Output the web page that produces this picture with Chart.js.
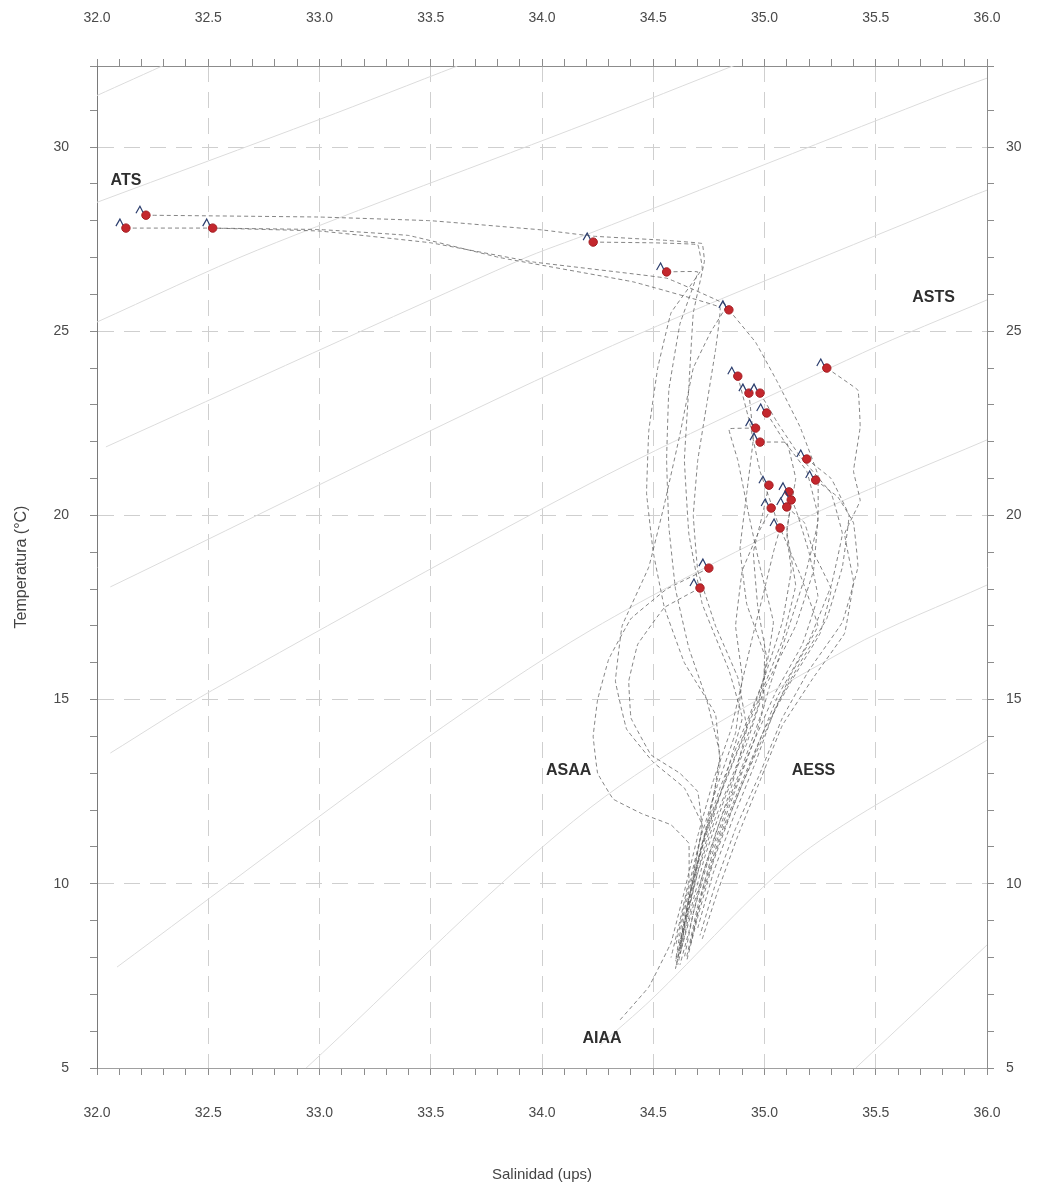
<!DOCTYPE html>
<html lang="es">
<head>
  <meta charset="UTF-8">
  <title>Diagrama T-S</title>
  <script src="https://cdn.jsdelivr.net/npm/chart.js"></script>
  <style>
    html, body { margin: 0; padding: 0; background: #fff; }
    #wrap { width: 1042px; height: 1194px; }
  </style>
</head>
<body>
  <div id="wrap"><canvas id="tsChart"></canvas></div>

  <script>
    // Surface values of each station (red dots)
    const surfaceS = [32.13, 32.22, 32.52, 34.23, 34.56, 34.84, 35.28, 34.88, 34.93, 34.98, 35.01, 34.96,
      34.98, 35.19, 35.23, 35.02, 35.11, 35.12, 35.03, 35.10, 35.07, 34.75, 34.71];
    const surfaceT = [27.80, 28.15, 27.80, 27.42, 26.61, 25.58, 24.00, 23.78, 23.32, 23.32, 22.78, 22.37,
      21.99, 21.53, 20.96, 20.82, 20.64, 20.42, 20.20, 20.23, 19.66, 18.57, 18.03];

    // Vertical profiles [salinity, temperature], one per station, same order
    const profiles = [
      [[32.13,27.8],[32.5,27.8],[33.0,27.76],[33.4,27.6],[33.81,27.0],[34.41,26.34],[34.8,25.65],[34.78,24.5],[34.74,23.0],[34.7,21.5],[34.68,20.0],[34.7,18.5],[34.78,17.0],[34.88,15.6],[34.92,14.2],[34.85,12.6],[34.76,11.0],[34.68,9.4],[34.62,8.1]],
      [[32.22,28.15],[33.0,28.1],[33.5,28.0],[34.0,27.75],[34.23,27.58],[34.55,27.47],[34.72,27.38],[34.73,26.9],[34.68,25.5],[34.66,23.5],[34.64,21.5],[34.66,19.5],[34.72,17.6],[34.84,15.8],[34.9,14.5],[34.82,12.8],[34.73,11.0],[34.66,9.4],[34.6,7.9]],
      [[32.52,27.8],[33.0,27.72],[33.5,27.4],[33.96,26.88],[34.56,26.44],[34.83,25.71],[34.76,25.0],[34.68,24.0],[34.62,22.2],[34.55,20.3],[34.48,18.6],[34.36,17.0],[34.33,15.5],[34.38,14.2],[34.5,13.3],[34.64,12.6],[34.72,11.6],[34.68,10.2],[34.63,8.6]],
      [[34.23,27.42],[34.5,27.4],[34.7,27.35],[34.72,26.7],[34.58,25.5],[34.52,24.0],[34.48,22.3],[34.47,20.6],[34.5,19.0],[34.55,17.5],[34.64,16.0],[34.78,14.6],[34.8,13.2],[34.74,11.6],[34.68,10.0],[34.62,8.4]],
      [[34.56,26.61],[34.7,26.61],[34.62,25.2],[34.57,23.4],[34.56,21.5],[34.57,19.7],[34.6,18.0],[34.66,16.4],[34.74,15.0],[34.8,13.5],[34.76,12.0],[34.7,10.5],[34.65,9.0],[34.6,7.7]],
      [[34.84,25.58],[34.96,24.7],[35.06,23.6],[35.16,22.4],[35.24,21.1],[35.24,19.8],[35.18,18.3],[35.1,16.8],[35.02,15.3],[34.96,14.0],[34.86,12.4],[34.77,10.9],[34.7,9.4],[34.65,8.0]],
      [[35.28,24.0],[35.42,23.4],[35.43,22.4],[35.4,21.2],[35.43,20.4],[35.36,19.5],[35.4,18.2],[35.36,16.8],[35.22,15.6],[35.08,14.3],[34.98,12.8],[34.88,11.3],[34.79,9.8],[34.72,8.5]],
      [[34.88,23.78],[34.93,22.6],[34.98,21.2],[35.06,19.8],[35.16,18.4],[35.24,17.0],[35.12,15.7],[35.01,14.2],[34.9,12.7],[34.8,11.2],[34.72,9.7],[34.66,8.2]],
      [[34.93,23.32],[34.95,22.1],[34.92,20.6],[34.89,19.1],[34.92,17.6],[35.0,16.2],[34.99,14.7],[34.9,13.2],[34.8,11.7],[34.72,10.2],[34.66,8.7],[34.62,7.8]],
      [[34.98,23.32],[35.06,22.5],[35.16,21.6],[35.3,20.6],[35.35,19.5],[35.3,18.1],[35.2,16.6],[35.06,15.1],[34.96,13.6],[34.86,12.1],[34.77,10.6],[34.7,9.1],[34.65,7.9]],
      [[35.01,22.78],[35.09,22.0],[35.19,21.2],[35.24,20.0],[35.22,18.5],[35.14,17.0],[35.0,15.3],[34.92,13.8],[34.82,12.3],[34.73,10.7],[34.66,9.1],[34.61,7.8]],
      [[34.96,22.37],[34.84,22.35],[34.88,21.5],[34.93,20.0],[34.98,18.6],[35.04,17.1],[35.0,15.6],[34.9,14.1],[34.8,12.6],[34.72,11.1],[34.66,9.6],[34.62,8.3]],
      [[34.98,21.99],[35.1,21.98],[35.14,21.0],[35.1,19.6],[35.14,18.1],[35.08,16.6],[34.98,15.1],[34.88,13.6],[34.78,12.1],[34.7,10.6],[34.64,9.1],[34.61,8.0]],
      [[35.19,21.53],[35.3,21.0],[35.38,20.0],[35.35,18.6],[35.28,17.2],[35.16,16.0],[35.05,14.8],[34.96,13.3],[34.86,11.8],[34.77,10.3],[34.7,8.8]],
      [[35.23,20.96],[35.33,20.5],[35.4,19.8],[35.42,18.6],[35.35,17.1],[35.2,15.8],[35.08,14.5],[34.98,13.0],[34.87,11.5],[34.78,10.0],[34.71,8.6]],
      [[35.02,20.82],[34.99,20.0],[34.95,19.0],[34.97,17.5],[35.01,16.1],[34.97,14.8],[34.88,13.3],[34.78,11.8],[34.7,10.3],[34.64,8.8],[34.6,7.7]],
      [[35.11,20.64],[35.15,20.0],[35.2,19.0],[35.24,17.8],[35.17,16.5],[35.05,15.2],[34.94,13.7],[34.84,12.2],[34.75,10.7],[34.68,9.2],[34.64,8.0]],
      [[35.12,20.42],[35.1,19.5],[35.12,18.5],[35.08,17.1],[35.0,15.6],[34.91,14.1],[34.81,12.6],[34.72,11.1],[34.66,9.6],[34.62,8.1]],
      [[35.03,20.2],[34.97,19.5],[34.9,18.5],[34.87,17.0],[34.9,15.6],[34.87,14.1],[34.79,12.7],[34.71,11.2],[34.65,9.7],[34.6,8.3]],
      [[35.1,20.23],[35.18,19.8],[35.22,19.0],[35.3,18.0],[35.25,16.8],[35.12,15.5],[35.0,14.2],[34.9,12.8],[34.8,11.3],[34.72,9.8],[34.67,8.4]],
      [[35.07,19.66],[35.04,19.0],[35.0,18.0],[34.95,16.8],[34.9,15.5],[34.85,14.2],[34.77,12.8],[34.7,11.3],[34.64,9.8],[34.58,8.4],[34.48,7.2],[34.35,6.3]],
      [[34.75,18.57],[34.56,18.0],[34.4,17.2],[34.3,16.1],[34.25,15.0],[34.23,14.0],[34.25,13.0],[34.32,12.3],[34.45,11.9],[34.58,11.6],[34.66,11.1],[34.66,10.1],[34.62,9.0],[34.58,8.0]],
      [[34.71,18.03],[34.55,17.5],[34.43,16.5],[34.39,15.5],[34.4,14.5],[34.49,13.5],[34.62,13.0],[34.7,12.5],[34.72,11.5],[34.68,10.3],[34.63,9.0],[34.6,7.9]]
    ];

    // Isopycnal lines (light grey background curves)
    const isopycnals = [
      [[32.0,31.4],[32.33,32.3]],
      [[32.0,28.5],[33.0,30.75],[33.62,32.2]],
      [[32.0,25.25],[32.72,27.2],[34.22,30.68],[34.87,32.23]],
      [[32.04,21.86],[33.9,26.93],[34.22,27.67],[35.82,31.47],[36.0,31.87]],
      [[32.06,18.06],[34.22,24.35],[35.92,28.64],[36.0,28.83]],
      [[32.06,13.55],[32.52,15.26],[34.22,20.88],[35.44,24.41],[36.0,25.85]],
      [[32.09,7.74],[33.47,13.9],[34.22,16.89],[35.16,19.87],[36.0,22.05]],
      [[32.94,5.0],[34.22,12.08],[35.38,16.4],[36.0,18.11]],
      [[34.26,5.62],[34.49,6.85],[35.16,10.78],[36.0,13.9]],
      [[35.41,5.0],[36.0,8.34]]
    ];

    // Water mass labels
    const massNames = ['ATS', 'ASTS', 'ASAA', 'AESS', 'AIAA'];
    const massS = [32.13, 35.76, 34.12, 35.22, 34.27];
    const massT = [29.09, 25.92, 13.08, 13.08, 5.81];

    const sMin = 32, sMax = 36, tMin = 5, tMax = 32.2;

    const tickFont = { family: 'Liberation Sans, Arial, sans-serif', size: 14 };
    const titleFont = { family: 'Liberation Sans, Arial, sans-serif', size: 15 };

    const isMajorS = v => Math.abs(v * 2 - Math.round(v * 2)) < 1e-6;
    const isMajorT = v => Math.abs(v / 5 - Math.round(v / 5)) < 1e-6;

    const datasets = [];
    datasets.push({
      label: 'superficie',
      data: surfaceS.map((s, i) => ({ x: s, y: surfaceT[i] })),
      backgroundColor: '#c4272d',
      borderColor: '#a31d22',
      borderWidth: 1,
      pointRadius: 4.2,
      order: 0
    });
    profiles.forEach((p, i) => {
      datasets.push({
        label: 'perfil ' + (i + 1),
        data: p.map(d => ({ x: d[0], y: d[1] })),
        showLine: true,
        borderColor: 'rgba(95,95,95,0.85)',
        borderWidth: 0.9,
        borderDash: [4, 3],
        pointRadius: 0,
        tension: 0.05,
        order: 1
      });
    });
    isopycnals.forEach((p, i) => {
      datasets.push({
        label: 'sigma ' + (i + 1),
        data: p.map(d => ({ x: d[0], y: d[1] })),
        showLine: true,
        borderColor: '#dcdcdc',
        borderWidth: 1,
        pointRadius: 0,
        tension: 0.3,
        order: 2
      });
    });

    // small navy marks beside each surface dot + water mass names
    const labelsPlugin = {
      id: 'tsLabels',
      afterDatasetsDraw(chart) {
        const { ctx, scales: { x, y } } = chart;
        ctx.save();
        ctx.strokeStyle = '#2c3e6e';
        ctx.lineWidth = 1.2;
        surfaceS.forEach((s, i) => {
          const px = x.getPixelForValue(s), py = y.getPixelForValue(surfaceT[i]);
          ctx.beginPath();
          ctx.moveTo(px - 10, py - 2);
          ctx.lineTo(px - 6, py - 9);
          ctx.lineTo(px - 3, py - 3);
          ctx.stroke();
        });
        ctx.fillStyle = '#2e2e2e';
        ctx.font = 'bold 16px "Liberation Sans", Arial, sans-serif';
        ctx.textAlign = 'center';
        ctx.textBaseline = 'middle';
        massNames.forEach((n, i) => {
          ctx.fillText(n, x.getPixelForValue(massS[i]), y.getPixelForValue(massT[i]));
        });
        ctx.restore();
      }
    };

    const sGrid = {
      color: c => (c.tick && isMajorS(c.tick.value) && c.tick.value > sMin + 0.01 && c.tick.value < sMax - 0.01) ? '#cfcfcf' : 'rgba(0,0,0,0)',
      tickColor: '#8c8c8c',
      tickLength: 7,
      lineWidth: 1
    };
    const tGrid = {
      color: c => (c.tick && isMajorT(c.tick.value) && c.tick.value > tMin + 0.01 && c.tick.value < 31) ? '#cfcfcf' : 'rgba(0,0,0,0)',
      tickColor: '#8c8c8c',
      tickLength: 7,
      lineWidth: 1
    };

    new Chart(document.getElementById('tsChart'), {
      type: 'scatter',
      data: { datasets: datasets },
      options: {
        responsive: true,
        maintainAspectRatio: false,
        animation: false,
        layout: { padding: 0 },
        plugins: { legend: { display: false }, tooltip: { enabled: false } },
        scales: {
          x: {
            type: 'linear', position: 'bottom', min: sMin, max: sMax,
            ticks: { stepSize: 0.1, autoSkip: false, maxRotation: 0, padding: 30, font: tickFont, color: '#4a4a4a',
              callback: v => isMajorS(v) ? Number(v).toFixed(1) : '' },
            grid: sGrid,
            border: { color: '#a0a0a0', width: 1, dash: [16, 10] },
            title: { display: true, text: 'Salinidad (ups)', font: titleFont, color: '#444', padding: { top: 0, bottom: 10 } },
            afterFit: s => { s.height = 126; }
          },
          x2: {
            type: 'linear', position: 'top', min: sMin, max: sMax,
            ticks: { stepSize: 0.1, autoSkip: false, maxRotation: 0, padding: 32, font: tickFont, color: '#4a4a4a',
              callback: v => isMajorS(v) ? Number(v).toFixed(1) : '' },
            grid: { drawOnChartArea: false, tickColor: '#8c8c8c', tickLength: 7 },
            border: { color: '#8c8c8c', width: 1 },
            afterFit: s => { s.height = 66; }
          },
          y: {
            type: 'linear', position: 'left', min: tMin, max: tMax,
            ticks: { stepSize: 1, autoSkip: false, padding: 21, font: tickFont, color: '#4a4a4a',
              callback: v => isMajorT(v) ? String(Math.round(v)) : '' },
            grid: tGrid,
            border: { color: '#7a7a7a', width: 1, dash: [16, 10] },
            title: { display: true, text: 'Temperatura (°C)', font: { family: titleFont.family, size: 16 }, color: '#444', padding: { top: 12, bottom: 0 } },
            afterFit: s => { s.width = 97; }
          },
          y2: {
            type: 'linear', position: 'right', min: tMin, max: tMax,
            ticks: { stepSize: 1, autoSkip: false, padding: 12, font: tickFont, color: '#4a4a4a',
              callback: v => isMajorT(v) ? String(Math.round(v)) : '' },
            grid: { drawOnChartArea: false, tickColor: '#8c8c8c', tickLength: 7 },
            border: { color: '#8c8c8c', width: 1 },
            afterFit: s => { s.width = 55; }
          }
        }
      },
      plugins: [labelsPlugin]
    });
  </script>
</body>
</html>
